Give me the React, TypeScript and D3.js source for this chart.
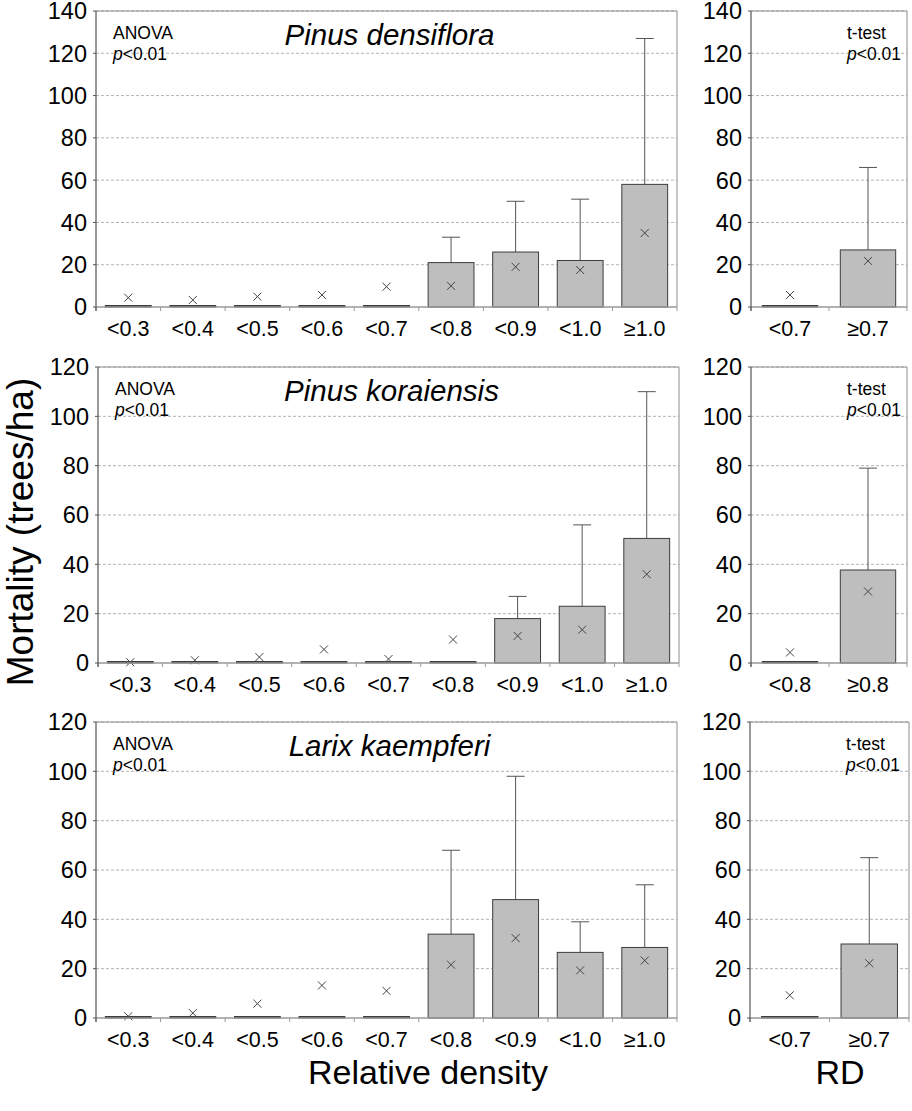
import React from "react";
import * as d3 from "d3";

// ---------- data ----------
const rdCats = ["<0.3", "<0.4", "<0.5", "<0.6", "<0.7", "<0.8", "<0.9", "<1.0", "≥1.0"];

const densBar = [0, 0, 0, 0, 0, 21, 26, 22, 58];
const densErr = [null, null, null, null, null, 33, 50, 51, 127];
const densMark = [4.4, 3.3, 4.9, 5.7, 9.6, 10, 19, 17.5, 35];
const densTCats = ["<0.7", "≥0.7"];
const densTBar = [0, 27];
const densTErr = [null, 66];
const densTMark = [5.7, 21.8];

const korBar = [0, 0, 0, 0, 0, 0, 18, 23, 50.5];
const korErr = [null, null, null, null, null, null, 27, 56, 110];
const korMark = [0.3, 1.1, 2.4, 5.5, 1.6, 9.5, 11, 13.5, 36];
const korTCats = ["<0.8", "≥0.8"];
const korTBar = [0, 37.7];
const korTErr = [null, 79];
const korTMark = [4.3, 29];

const larBar = [0, 0, 0, 0, 0, 34, 48, 26.6, 28.6];
const larErr = [null, null, null, null, null, 68, 98, 39, 54];
const larMark = [0.7, 2, 5.8, 13.2, 11, 21.6, 32.4, 19.3, 23.3];
const larTCats = ["<0.7", "≥0.7"];
const larTBar = [0, 30];
const larTErr = [null, 65];
const larTMark = [9.2, 22.2];

const titles = ["Pinus densiflora", "Pinus koraiensis", "Larix kaempferi"];
const yMaxes = [140, 120, 120];

const FONT = "'Liberation Sans', Arial, Helvetica, sans-serif";

type PanelProps = {
  x0: number; x1: number; y0: number; y1: number;
  yMax: number; cats: string[]; bars: number[]; errs: (number | null)[]; marks: number[];
  stat: string; statX?: number; title?: string;
};

function Panel({ x0, x1, y0, y1, yMax, cats, bars, errs, marks, stat, statX, title }: PanelProps) {
  const x = d3.scaleBand<string>().domain(cats).range([x0, x1]).paddingInner(0.29).paddingOuter(0.145);
  const xb = d3.scaleBand<string>().domain(cats).range([x0, x1]).padding(0);
  const y = d3.scaleLinear().domain([0, yMax]).range([y1, y0]);
  const ticks = d3.range(0, yMax + 1, 20);
  const bw = x.bandwidth();
  const cap = 9;
  const mk = 4;
  return (
    <g>
      {ticks.filter((t) => t > 0).map((t) => (
        <line key={"g" + t} x1={x0} x2={x1} y1={y(t)} y2={y(t)} stroke="#b4b4b4" strokeWidth={1} strokeDasharray="3,2" />
      ))}
      <line x1={x1} x2={x1} y1={y0} y2={y1} stroke="#8c8c8c" strokeWidth={1} />
      <line x1={x0} x2={x1} y1={y0} y2={y0} stroke="#8c8c8c" strokeWidth={1} />
      {bars.map((v, i) => {
        const cx = x(cats[i])! + bw / 2;
        const e = errs[i];
        return (
          <g key={"b" + i}>
            {e != null && (
              <g stroke="#555" strokeWidth={1}>
                <line x1={cx} x2={cx} y1={y(v)} y2={y(e)} />
                <line x1={cx - cap} x2={cx + cap} y1={y(e)} y2={y(e)} />
              </g>
            )}
            <rect x={x(cats[i])} width={bw} y={Math.min(y(v), y(0) - 1.5)} height={Math.max(1.5, y(0) - y(v))}
              fill={v > 0 ? "#bebebe" : "#333"} stroke="#3c3c3c" strokeWidth={1} />
          </g>
        );
      })}
      {marks.map((m, i) => {
        const cx = x(cats[i])! + bw / 2;
        const cy = y(m);
        return (
          <g key={"m" + i} stroke="#444" strokeWidth={1}>
            <line x1={cx - mk} x2={cx + mk} y1={cy - mk} y2={cy + mk} />
            <line x1={cx - mk} x2={cx + mk} y1={cy + mk} y2={cy - mk} />
          </g>
        );
      })}
      <line x1={x0} x2={x1} y1={y1} y2={y1} stroke="#999" strokeWidth={1.5} />
      {cats.map((c, i) => (
        <line key={"xt" + i} x1={xb(c)!} x2={xb(c)!} y1={y1} y2={y1 + 4} stroke="#999" strokeWidth={1} />
      ))}
      <line x1={x1} x2={x1} y1={y1} y2={y1 + 4} stroke="#999" strokeWidth={1} />
      <line x1={x0} x2={x0} y1={y0} y2={y1 + 4} stroke="#555" strokeWidth={1.2} />
      {ticks.map((t) => (
        <g key={"yt" + t}>
          <line x1={x0 - 3} x2={x0} y1={y(t)} y2={y(t)} stroke="#555" strokeWidth={1} />
          <text x={x0 - 9} y={y(t)} dy="0.36em" textAnchor="end" fontSize={23.5} fontFamily={FONT} fill="#000">{t}</text>
        </g>
      ))}
      {cats.map((c) => (
        <text key={"xl" + c} x={xb(c)! + xb.bandwidth() / 2} y={y1 + 29} textAnchor="middle" fontSize={21.5} fontFamily={FONT} fill="#000">{c}</text>
      ))}
      {title && (
        <text x={(x0 + x1) / 2 + 3} y={y0 + 34} textAnchor="middle" fontSize={29.5} fontStyle="italic" fontFamily={FONT} fill="#000">{title}</text>
      )}
      <text x={statX ?? x0 + 17} y={y0 + 28} fontSize={17.5} fontFamily={FONT} fill="#000">{stat}</text>
      <text x={statX ?? x0 + 17} y={y0 + 49} fontSize={17.5} fontFamily={FONT} fill="#000">
        <tspan fontStyle="italic">p</tspan>&lt;0.01
      </text>
    </g>
  );
}

export default function App() {
  const rows = [
    { y0: 11, y1: 307, L: [96, 677], R: [751, 907], bars: densBar, errs: densErr, marks: densMark, tc: densTCats, tb: densTBar, te: densTErr, tm: densTMark },
    { y0: 367, y1: 663, L: [98, 679], R: [751, 907], bars: korBar, errs: korErr, marks: korMark, tc: korTCats, tb: korTBar, te: korTErr, tm: korTMark },
    { y0: 722, y1: 1018, L: [96, 677], R: [750, 909], bars: larBar, errs: larErr, marks: larMark, tc: larTCats, tb: larTBar, te: larTErr, tm: larTMark },
  ];
  return (
    <svg width={912} height={1111} style={{ position: "absolute", left: 0, top: 0, background: "#fff" }}>
      <rect width={912} height={1111} fill="#fff" />
      {rows.map((r, i) => (
        <g key={i}>
          <Panel x0={r.L[0]} x1={r.L[1]} y0={r.y0} y1={r.y1} yMax={yMaxes[i]} cats={rdCats} bars={r.bars} errs={r.errs} marks={r.marks} stat="ANOVA" title={titles[i]} />
          <Panel x0={r.R[0]} x1={r.R[1]} y0={r.y0} y1={r.y1} yMax={yMaxes[i]} cats={r.tc} bars={r.tb} errs={r.te} marks={r.tm} stat="t-test" statX={r.R[0] + 96} />
        </g>
      ))}
      <text transform="translate(33,532) rotate(-90)" textAnchor="middle" fontSize={37} fontFamily={FONT} fill="#000">Mortality (trees/ha)</text>
      <text x={428} y={1084} textAnchor="middle" fontSize={34} fontFamily={FONT} fill="#000">Relative density</text>
      <text x={840} y={1084} textAnchor="middle" fontSize={34} fontFamily={FONT} fill="#000">RD</text>
    </svg>
  );
}
